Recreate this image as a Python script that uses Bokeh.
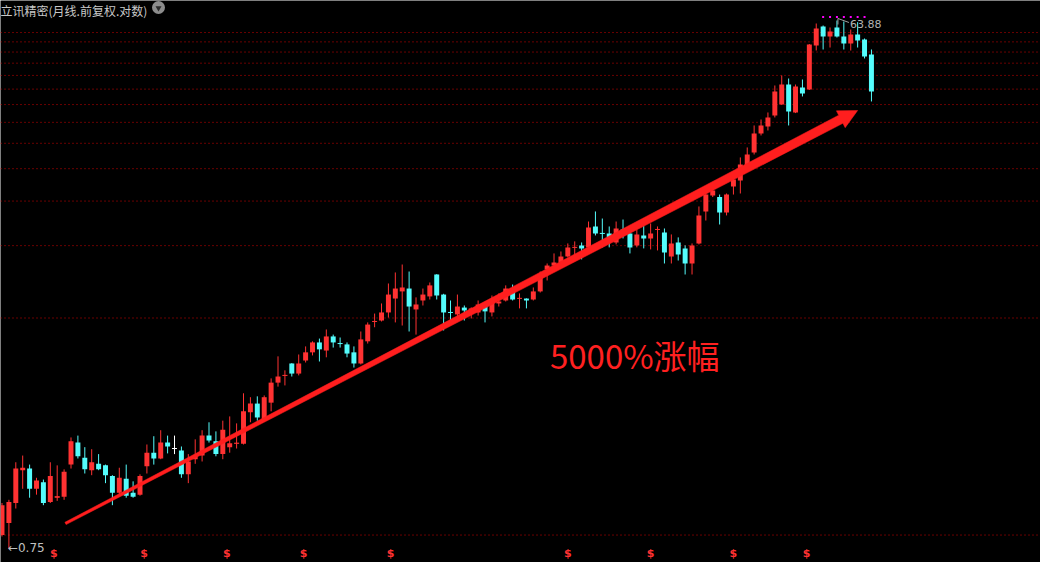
import math
from bokeh.plotting import figure
from bokeh.models import Range1d, Span, Label
from bokeh.embed import file_html
from bokeh.resources import INLINE
from bokeh.core.properties import value

# ---------------- data (monthly candles, front-adjusted, log scale) ----------------
opens = [0.84, 0.93, 1.10, 1.45, 1.47, 1.24, 1.31, 1.11, 1.15, 1.16,
         1.52, 1.83, 1.61, 1.45, 1.53, 1.51, 1.38, 1.20, 1.35, 1.20,
         1.18, 1.50, 1.68, 1.60, 1.83, 1.74, 1.71, 1.40, 1.59, 1.64,
         1.94, 1.85, 1.66, 1.76, 1.81, 1.81, 2.36, 2.54, 2.22, 2.56,
         3.03, 3.21, 3.56, 3.27, 3.65, 3.91, 4.25, 3.97, 4.47, 4.22,
         4.18, 3.91, 3.56, 4.29, 5.06, 5.11, 5.47, 6.15, 6.53, 6.69,
         5.61, 6.05, 6.26, 7.53, 6.36, 5.48, 5.38, 5.70, 5.42, 5.47,
         5.85, 5.47, 5.90, 6.05, 6.69, 6.15, 6.15, 6.10, 6.53, 7.86,
         8.12, 8.33, 8.76, 9.45, 9.62, 9.46, 11.28, 10.65, 10.64, 9.86,
         11.00, 10.64, 9.62, 10.46, 10.20, 10.99, 10.73, 8.76, 9.86, 9.38,
         8.26, 9.78, 12.80, 14.64, 14.45, 12.69, 15.79, 16.61, 18.22, 21.03,
         24.68, 26.18, 28.72, 31.50, 37.27, 29.45, 36.34, 35.74, 51.76, 60.74,
         55.82, 60.23, 55.82, 52.64, 56.78, 54.44, 47.98]
highs = [1.10, 1.13, 1.55, 1.64, 1.52, 1.36, 1.34, 1.55, 1.51, 1.46,
         1.91, 1.94, 1.76, 1.73, 1.66, 1.52, 1.39, 1.48, 1.52, 1.32,
         1.40, 1.80, 1.93, 2.03, 1.94, 1.94, 1.77, 1.66, 1.88, 2.03,
         2.17, 2.01, 2.20, 2.28, 2.15, 2.77, 2.68, 2.70, 2.72, 3.14,
         3.78, 3.36, 3.57, 3.84, 4.11, 4.29, 4.39, 4.74, 4.54, 4.43,
         4.25, 4.11, 4.66, 5.03, 5.42, 5.90, 6.98, 7.66, 8.19, 7.72,
         6.21, 6.69, 7.04, 7.55, 6.40, 6.05, 6.36, 5.80, 5.71, 6.05,
         5.95, 6.31, 6.42, 6.87, 6.92, 6.42, 6.16, 6.75, 7.72, 8.26,
         8.99, 9.14, 9.78, 9.95, 9.86, 11.76, 12.80, 12.06, 11.28, 11.76,
         11.96, 11.00, 11.00, 11.37, 11.57, 11.28, 11.09, 10.55, 10.29, 9.62,
         9.78, 13.35, 15.40, 15.92, 14.76, 14.89, 17.18, 20.17, 21.94, 26.40,
         27.76, 29.45, 36.96, 40.20, 39.20, 37.27, 38.87, 52.40, 62.29, 61.25,
         60.23, 63.88, 63.35, 59.22, 63.00, 54.90, 50.04]
lows = [0.83, 0.75, 1.05, 1.24, 1.15, 1.18, 1.08, 1.10, 1.12, 1.13,
        1.47, 1.60, 1.41, 1.39, 1.45, 1.30, 1.08, 1.17, 1.15, 1.15,
        1.17, 1.41, 1.52, 1.59, 1.67, 1.66, 1.36, 1.30, 1.53, 1.56,
        1.83, 1.63, 1.59, 1.68, 1.74, 1.80, 2.17, 2.20, 2.20, 2.38,
        2.93, 2.96, 3.19, 3.22, 3.59, 3.81, 3.62, 3.75, 4.07, 4.07,
        3.75, 3.44, 3.53, 4.21, 4.83, 5.07, 5.24, 5.03, 4.90, 4.66,
        4.54, 5.80, 6.10, 6.10, 4.70, 5.11, 5.20, 5.11, 5.20, 5.33,
        5.03, 5.29, 5.75, 6.00, 6.05, 5.66, 5.66, 6.05, 6.47, 7.16,
        7.79, 8.19, 8.69, 8.84, 8.55, 9.38, 10.46, 9.46, 9.46, 9.70,
        10.20, 8.99, 9.46, 9.38, 9.30, 9.22, 8.26, 8.26, 8.47, 7.53,
        7.53, 9.70, 11.86, 14.45, 11.47, 12.38, 14.76, 14.89, 18.07, 20.68,
        24.27, 25.31, 28.24, 31.40, 26.40, 29.30, 33.70, 35.60, 49.62, 50.04,
        50.88, 55.35, 50.04, 49.62, 50.88, 46.40, 32.31]
closes = [1.08, 1.11, 1.47, 1.48, 1.24, 1.33, 1.10, 1.38, 1.16, 1.43,
          1.85, 1.63, 1.46, 1.55, 1.46, 1.39, 1.20, 1.36, 1.17, 1.16,
          1.38, 1.68, 1.60, 1.83, 1.77, 1.74, 1.40, 1.56, 1.64, 1.94,
          1.86, 1.66, 2.04, 1.82, 1.82, 2.38, 2.54, 2.26, 2.68, 3.03,
          3.19, 3.22, 3.27, 3.56, 3.91, 4.25, 4.01, 4.47, 4.25, 4.21,
          3.87, 3.56, 4.36, 4.94, 5.07, 5.47, 6.36, 6.69, 6.75, 5.75,
          5.85, 6.36, 6.87, 6.31, 5.47, 5.47, 5.75, 5.56, 5.66, 5.85,
          5.52, 5.95, 6.00, 6.69, 6.10, 6.16, 6.05, 6.53, 7.53, 8.12,
          8.33, 8.76, 9.46, 9.46, 9.38, 11.18, 10.64, 10.64, 10.29, 11.09,
          10.70, 9.46, 10.55, 10.20, 10.64, 11.00, 9.06, 9.78, 8.91, 8.26,
          9.62, 12.38, 14.76, 15.27, 12.69, 14.76, 16.75, 19.01, 20.68, 24.68,
          26.40, 28.24, 35.14, 37.27, 29.70, 36.65, 34.56, 52.19, 59.72, 55.82,
          58.23, 55.82, 52.64, 56.78, 53.98, 47.18, 35.14]

grid_levels = [0.84, 5.22, 9.60, 13.97, 18.35, 22.72, 27.10, 31.48,
               35.85, 40.23, 44.60, 48.98, 53.36, 57.73]
dividend_pos = [7.5, 20.6, 32.6, 43.7, 56.3, 82.0, 94.0, 106.0, 116.6]
signal_idx = [119, 120, 121, 122, 123, 124, 125]
signal_level = 65.8
title_text = "立讯精密(月线.前复权.对数)"
note_text = "5000%涨幅"
low_text = "←0.75"
high_text = "63.88"

# ---------------- figure ----------------
W, H = 1040, 562
X0, X1 = -0.217, 150.5
Y0, Y1 = 0.6666, 75.59
LY0, LY1 = math.log(Y0), math.log(Y1)

def to_screen(i, pr):
    return ((i - X0) / (X1 - X0) * W, (math.log(pr) - LY0) / (LY1 - LY0) * H)

def to_data(sx, sy):
    return (X0 + sx / W * (X1 - X0), math.exp(LY0 + sy / H * (LY1 - LY0)))

RED = "#FF3232"
CYAN = "#54FCFC"

p = figure(width=W, height=H, x_range=Range1d(X0, X1), y_range=Range1d(Y0, Y1),
           y_axis_type="log", output_backend="svg", toolbar_location=None,
           x_axis_location=None, y_axis_location=None, min_border=0,
           background_fill_color="black", border_fill_color="black",
           outline_line_color=None)
p.grid.visible = False

for lv in grid_levels:
    p.add_layout(Span(location=lv, dimension="width", line_color="#D00000",
                      line_dash="1 3", line_width=1, level="underlay"))

N = len(opens)
idx = list(range(N))
colors = []
for o, c in zip(opens, closes):
    if c > o:
        colors.append(RED)
    elif c < o:
        colors.append(CYAN)
    else:
        colors.append("#FFFFFF")
tops = [max(o, c) for o, c in zip(opens, closes)]
bots = [min(o, c) for o, c in zip(opens, closes)]

p.segment(x0=idx, y0=lows, x1=idx, y1=highs, line_color=colors, line_width=1)
p.vbar(x=idx, width=0.72, top=tops, bottom=bots, fill_color=colors, line_color=None)

# doji bars: draw a thin horizontal line
dj = [i for i in idx if abs(closes[i] / opens[i] - 1) < 0.01]
p.segment(x0=[i - 0.36 for i in dj], x1=[i + 0.36 for i in dj],
          y0=[closes[i] for i in dj], y1=[closes[i] for i in dj],
          line_color=[colors[i] for i in dj], line_width=1)

# tapered trend arrow
a_start = (9.2, 0.926)
a_tip = (124.0, 29.95)
sx0, sy0 = to_screen(*a_start)
sx1, sy1 = to_screen(*a_tip)
dx, dy = sx1 - sx0, sy1 - sy0
L = math.hypot(dx, dy)
ux, uy = dx / L, dy / L
nx, ny = -uy, ux
head_len, head_half, w_end, w_start = 19.0, 9.5, 4.6, 1.3
bx, by = sx1 - ux * head_len, sy1 - uy * head_len
pts = [(sx0 + nx * w_start, sy0 + ny * w_start),
       (bx + nx * w_end, by + ny * w_end),
       (bx + nx * head_half, by + ny * head_half),
       (sx1, sy1),
       (bx - nx * head_half, by - ny * head_half),
       (bx - nx * w_end, by - ny * w_end),
       (sx0 - nx * w_start, sy0 - ny * w_start)]
dpts = [to_data(x, y) for x, y in pts]
p.patch([q[0] for q in dpts], [q[1] for q in dpts], fill_color="#FF1E1E",
        line_color="#FF1E1E", line_width=0.5)

# annotation text
p.add_layout(Label(x=91.7, y=3.81, text=note_text, text_align="center",
                   text_baseline="middle", text_font="Noto Sans CJK SC",
                   text_font_size="33px", text_color="#FF2020"))

# title
p.add_layout(Label(x=0, y=H - 1, x_units="screen", y_units="screen", text=title_text,
                   text_align="left", text_baseline="top", text_font="Noto Sans CJK SC",
                   text_font_size="12px", text_color="#C8C8C8"))
icx, icy = to_data(158, H - 7)
p.scatter(x=[icx], y=[icy], marker="circle", size=13, fill_color="#8C8C8C", line_color=None)
p.scatter(x=[icx], y=[icy * 0.995], marker="inverted_triangle", size=6,
          fill_color="#2A2A2A", line_color=None)

# low / high labels
p.add_layout(Label(x=1, y=0.75, text=low_text, text_align="left", text_baseline="middle",
                   x_offset=-1, text_font="DejaVu Sans", text_font_size="12px",
                   text_color="#C0C0C0"))
imax = highs.index(max(highs))
hx0, hy0 = to_screen(imax, max(highs))
lx = [to_data(hx0 + 1, hy0 + 2)[0], to_data(hx0 + 1, hy0 + 2)[0], to_data(hx0 + 12, hy0 + 2)[0]]
ly = [to_data(hx0, hy0 - 4)[1], to_data(hx0, hy0 + 2)[1], to_data(hx0, hy0 - 2)[1]]
p.line(lx, ly, line_color="#A0A0A0", line_width=1)
p.add_layout(Label(x=imax, y=max(highs), text=high_text, text_align="left",
                   text_baseline="middle", x_offset=13, y_offset=-4, text_font="DejaVu Sans",
                   text_font_size="11px", text_color="#B4B4B4"))

# signal dots
p.scatter(x=signal_idx, y=[signal_level] * len(signal_idx), marker="square", size=2,
          fill_color="#FF00FF", line_color=None)

# dividend markers
p.text(x=dividend_pos, y=[0.678] * len(dividend_pos), text=["$"] * len(dividend_pos),
       text_color=RED, text_font=value("DejaVu Sans"), text_font_size="11px",
       text_font_style="bold", text_align="center", text_baseline="bottom")

open("out.html", "w").write(file_html(p, INLINE))
